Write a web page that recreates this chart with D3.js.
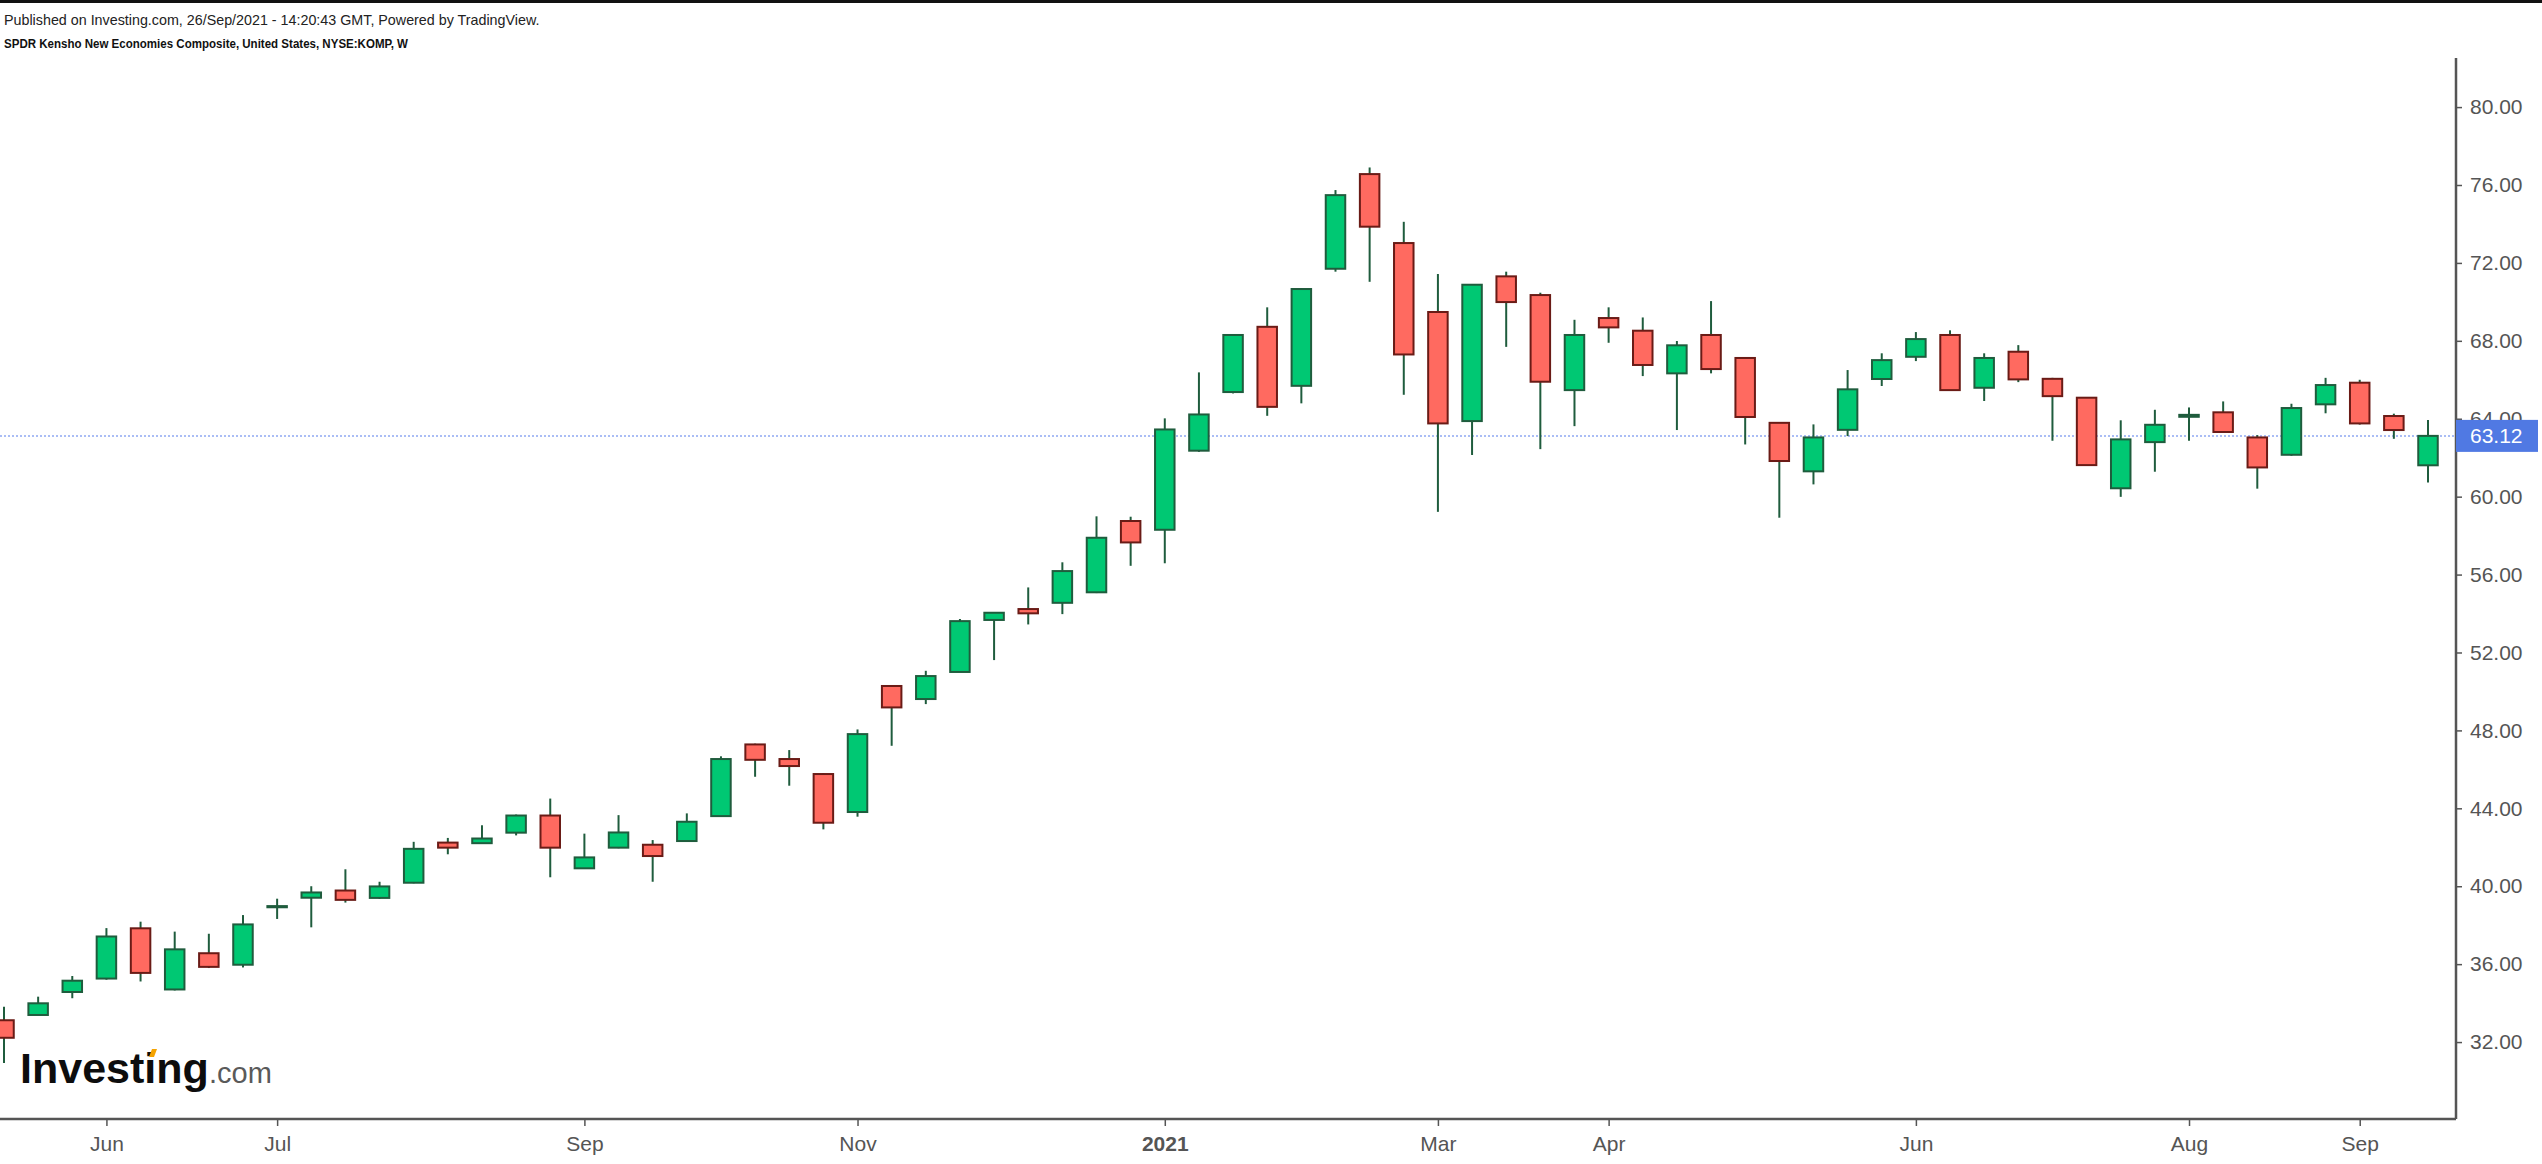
<!DOCTYPE html>
<html>
<head>
<meta charset="utf-8">
<script src="https://cdn.jsdelivr.net/npm/d3@7"></script>
<style>
  body { margin: 0; background: #fff; overflow: hidden; }
  text { font-family: "Liberation Sans", Arial, sans-serif; }
</style>
</head>
<body>
<div id="chart"></div>
<script>
// weekly bars, KOMP
const weeks = [
  "2020-05-11","2020-05-18","2020-05-25","2020-06-01","2020-06-08","2020-06-15","2020-06-22","2020-06-29",
  "2020-07-06","2020-07-13","2020-07-20","2020-07-27","2020-08-03","2020-08-10","2020-08-17","2020-08-24",
  "2020-08-31","2020-09-07","2020-09-14","2020-09-21","2020-09-28","2020-10-05","2020-10-12","2020-10-19",
  "2020-10-26","2020-11-02","2020-11-09","2020-11-16","2020-11-23","2020-11-30","2020-12-07","2020-12-14",
  "2020-12-21","2020-12-28","2021-01-04","2021-01-11","2021-01-18","2021-01-25","2021-02-01","2021-02-08",
  "2021-02-15","2021-02-22","2021-03-01","2021-03-08","2021-03-15","2021-03-22","2021-03-29","2021-04-05",
  "2021-04-12","2021-04-19","2021-04-26","2021-05-03","2021-05-10","2021-05-17","2021-05-24","2021-05-31",
  "2021-06-07","2021-06-14","2021-06-21","2021-06-28","2021-07-05","2021-07-12","2021-07-19","2021-07-26",
  "2021-08-02","2021-08-09","2021-08-16","2021-08-23","2021-08-30","2021-09-06","2021-09-13","2021-09-20"
];
const open = [
  33.12,33.39,34.57,35.26,37.84,34.70,36.56,35.97,38.92,39.41,39.78,39.40,40.18,42.24,42.21,42.75,
  43.63,40.92,41.98,42.13,42.32,43.60,47.28,46.53,45.76,43.81,50.28,49.61,51.00,53.67,54.23,54.55,
  55.09,58.75,58.30,62.36,65.37,68.72,65.69,71.70,76.56,73.02,69.48,63.88,71.31,70.35,65.47,69.17,
  68.52,66.33,68.30,67.12,63.79,61.30,63.43,66.04,67.18,68.30,65.59,67.44,66.05,65.08,60.43,62.80,
  64.10,64.33,63.04,62.15,64.74,65.85,64.14,61.61
];
const high = [
  33.81,34.33,35.39,37.85,38.18,37.67,37.56,38.52,39.36,40.00,40.87,40.23,42.28,42.48,43.13,43.68,
  44.50,42.70,43.65,42.37,43.74,46.67,47.32,46.99,45.80,48.05,50.32,51.06,53.72,54.08,55.34,56.63,
  58.99,58.97,64.02,66.38,68.35,69.72,70.70,75.74,76.90,74.11,71.43,70.90,71.55,70.47,69.08,69.72,
  69.20,67.99,70.04,67.15,63.80,63.71,66.50,67.36,68.45,68.54,67.36,67.78,66.10,65.10,63.92,64.46,
  64.58,64.89,63.16,64.77,66.10,66.00,64.26,63.93
];
const low = [
  30.92,33.39,34.25,35.20,35.11,34.65,35.80,35.83,38.32,37.89,39.16,39.35,40.15,41.64,42.18,42.61,
  40.46,40.90,41.95,40.23,42.30,43.58,45.62,45.16,42.92,43.57,47.21,49.35,51.00,51.61,53.44,53.97,
  55.05,56.45,56.58,62.30,65.30,64.15,64.79,71.55,71.03,65.23,59.22,62.14,67.69,62.44,63.62,67.90,
  66.19,63.42,66.33,62.68,58.92,60.63,63.11,65.68,66.96,65.43,64.91,65.88,62.87,61.58,59.99,61.28,
  62.87,63.30,60.41,62.10,64.28,63.70,62.97,60.73
];
const close = [
  32.22,33.99,35.15,37.42,35.55,36.76,35.86,38.04,38.98,39.68,39.30,39.99,41.92,41.98,42.45,43.63,
  41.98,41.48,42.76,41.55,43.31,46.53,46.49,46.17,43.26,47.81,49.18,50.79,53.61,54.04,54.01,56.18,
  57.89,57.65,63.45,64.22,68.30,64.61,70.66,75.48,73.86,67.30,63.76,70.88,69.99,65.90,68.30,68.69,
  66.76,67.77,66.55,64.09,61.83,63.04,65.51,67.01,68.09,65.47,67.12,66.02,65.16,61.62,62.94,63.69,
  64.20,63.32,61.50,64.55,65.73,63.76,63.42,63.12
];

const yTicks = [32, 36, 40, 44, 48, 52, 56, 60, 64, 68, 72, 76, 80];
const tickWeeks = ["2020-06-01","2020-07-06","2020-09-07","2020-11-02","2021-01-04",
                   "2021-03-01","2021-04-05","2021-06-07","2021-08-02","2021-09-06"];
const tickNames = ["Jun","Jul","Sep","Nov","2021","Mar","Apr","Jun","Aug","Sep"];
const lastPrice = 63.12;

const titleLine = "Published on Investing.com, 26/Sep/2021 - 14:20:43 GMT, Powered by TradingView.";
const symbolLine = "SPDR Kensho New Economies Composite, United States, NYSE:KOMP, W";

function candles()
{
    var width = 2542, height = 1164;
    var plot = { top: 58, right: 2456, bottom: 1119 };

    var svg = d3.select('#chart')
      .append('svg')
        .attr('width', width)
        .attr('height', height);

    svg.append('rect')
      .attr('width', width).attr('height', 3)
      .attr('fill', '#111');

    // header
    svg.append('text')
      .attr('x', 4).attr('y', 25)
      .attr('font-size', 14.3).attr('fill', '#222')
      .text(titleLine);
    svg.append('text')
      .attr('x', 4).attr('y', 48)
      .attr('font-size', 13.5).attr('font-weight', 'bold').attr('fill', '#111')
      .attr('textLength', 404).attr('lengthAdjust', 'spacingAndGlyphs')
      .text(symbolLine);

    const x = d3.scalePoint().domain(weeks).range([4, 2428]);
    const y = d3.scaleLinear().domain([28.05, 82.52]).range([plot.bottom, plot.top]);

    const data = weeks.map((w, i) => ({ w: w, o: open[i], h: high[i], l: low[i], c: close[i] }));

    svg.append('clipPath').attr('id', 'clip')
      .append('rect')
        .attr('x', 0).attr('y', plot.top)
        .attr('width', plot.right).attr('height', plot.bottom - plot.top);

    const g = svg.append('g').attr('clip-path', 'url(#clip)');

    // last price line
    g.append('line')
      .attr('x1', 0).attr('x2', plot.right)
      .attr('y1', y(lastPrice)).attr('y2', y(lastPrice))
      .attr('stroke', '#8ea8f2')
      .attr('stroke-width', 1.5)
      .attr('stroke-dasharray', '2,2');

    g.selectAll('line.wick')
      .data(data)
      .enter().append('line')
        .attr('class', 'wick')
        .attr('x1', d => x(d.w)).attr('x2', d => x(d.w))
        .attr('y1', d => y(d.h)).attr('y2', d => y(d.l))
        .attr('stroke', '#1f5c3d')
        .attr('stroke-width', 2);

    const bw = 19.5;
    g.selectAll('rect.body')
      .data(data)
      .enter().append('rect')
        .attr('class', 'body')
        .attr('x', d => x(d.w) - bw / 2)
        .attr('width', bw)
        .attr('y', d => y(Math.max(d.o, d.c)))
        .attr('height', d => Math.max(1, Math.abs(y(d.o) - y(d.c))))
        .attr('fill', d => d.c >= d.o ? '#00c873' : '#ff6a60')
        .attr('stroke', d => d.c >= d.o ? '#1f5c3d' : '#6a1b16')
        .attr('stroke-width', 2);

    // frame lines
    svg.append('line')
      .attr('x1', 0).attr('x2', plot.right)
      .attr('y1', plot.bottom).attr('y2', plot.bottom)
      .attr('stroke', '#555').attr('stroke-width', 2.5);
    svg.append('line')
      .attr('x1', plot.right).attr('x2', plot.right)
      .attr('y1', plot.top).attr('y2', plot.bottom)
      .attr('stroke', '#555').attr('stroke-width', 2.5);

    // price axis
    const yAxis = svg.append('g')
      .attr('transform', 'translate(' + plot.right + ',0)')
      .call(d3.axisRight(y).tickValues(yTicks).tickFormat(d3.format('.2f')).tickSize(6).tickPadding(8));
    yAxis.select('.domain').remove();
    yAxis.selectAll('line').attr('stroke', '#555').attr('stroke-width', 1.5);
    yAxis.selectAll('text').attr('font-size', 21).attr('fill', '#555')
      .attr('font-family', '"Liberation Sans", Arial, sans-serif');

    // time axis
    const xAxis = svg.append('g')
      .attr('transform', 'translate(0,' + plot.bottom + ')')
      .call(d3.axisBottom(x).tickValues(tickWeeks)
        .tickFormat(d => tickNames[tickWeeks.indexOf(d)]).tickSize(7).tickPadding(10));
    xAxis.select('.domain').remove();
    xAxis.selectAll('line').attr('stroke', '#555').attr('stroke-width', 1.5);
    xAxis.selectAll('text').attr('font-size', 21).attr('fill', '#555')
      .attr('font-family', '"Liberation Sans", Arial, sans-serif')
      .attr('font-weight', d => d.startsWith('2021-01') ? 'bold' : 'normal');

    // last price tag
    const py = y(lastPrice);
    svg.append('rect')
      .attr('x', plot.right).attr('y', py - 16)
      .attr('width', 82).attr('height', 32)
      .attr('fill', '#5079e3');
    svg.append('text')
      .attr('x', plot.right + 14).attr('y', py)
      .attr('dy', '0.36em')
      .attr('font-size', 21).attr('fill', '#fff')
      .text(d3.format('.2f')(lastPrice));

    // watermark
    const logo = svg.append('g');
    logo.append('text')
      .attr('x', 20).attr('y', 1083)
      .attr('font-size', 43).attr('font-weight', 900)
      .attr('fill', '#0d0d0d')
      .text('Investing');
    logo.append('text')
      .attr('x', 209).attr('y', 1083)
      .attr('font-size', 29)
      .attr('fill', '#5a5a5a')
      .text('.com');
    logo.append('path')
      .attr('d', 'M149,1057 L152,1049 L157,1049 L154,1057 Z')
      .attr('fill', '#f5a300');
}

candles();
</script>
</body>
</html>
